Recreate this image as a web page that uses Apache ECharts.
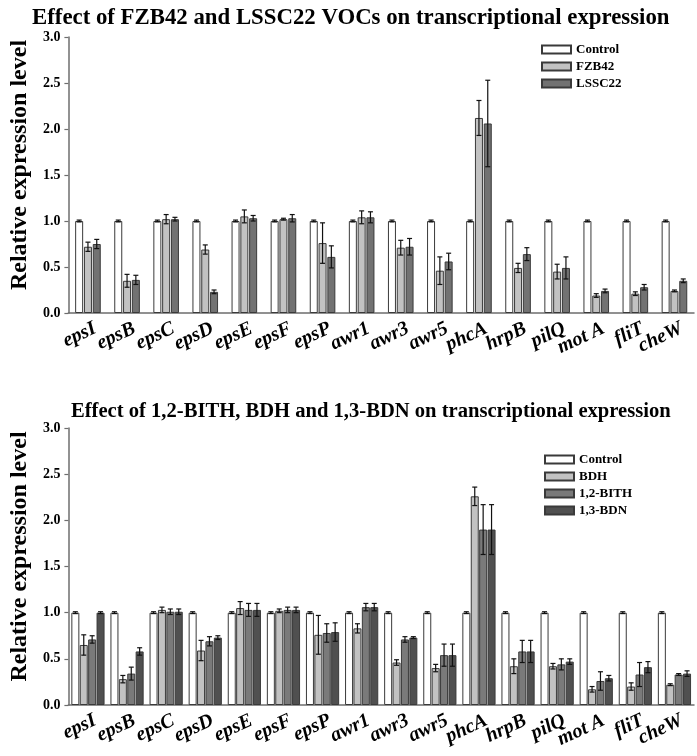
<!DOCTYPE html>
<html>
<head>
<meta charset="utf-8">
<script src="https://cdn.jsdelivr.net/npm/echarts@6/dist/echarts.min.js"></script>
<style>html,body{margin:0;padding:0;background:#fff;}#c{width:697px;height:756px;}</style>
</head>
<body>
<div id="c"></div>
<script>
const categories = ['epsI','epsB','epsC','epsD','epsE','epsF','epsP','awr1','awr3','awr5','phcA','hrpB','pilQ','mot A','fliT','cheW'];
const yTicks = [0, 0.5, 1.0, 1.5, 2.0, 2.5, 3.0];

// Top chart
const control1 = [1,1,1,1,1,1,1,1,1,1,1,1,1,1,1,1];
const control1Err = [0.01,0.01,0.01,0.01,0.01,0.01,0.01,0.01,0.01,0.01,0.01,0.01,0.01,0.01,0.01,0.01];
const fzb42 = [0.72,0.35,1.02,0.69,1.05,1.02,0.76,1.04,0.71,0.46,2.12,0.49,0.45,0.19,0.21,0.24];
const fzb42Err = [0.05,0.07,0.05,0.05,0.07,0.01,0.22,0.07,0.08,0.15,0.19,0.05,0.08,0.02,0.02,0.01];
const lssc22 = [0.75,0.36,1.02,0.23,1.03,1.03,0.61,1.04,0.72,0.56,2.06,0.64,0.49,0.24,0.28,0.35];
const lssc22Err = [0.05,0.05,0.02,0.02,0.03,0.04,0.12,0.06,0.09,0.09,0.47,0.07,0.12,0.02,0.03,0.02];

// Bottom chart
const control2 = [1,1,1,1,1,1,1,1,1,1,1,1,1,1,1,1];
const control2Err = [0.01,0.01,0.01,0.01,0.01,0.01,0.01,0.01,0.01,0.01,0.01,0.01,0.01,0.01,0.01,0.01];
const bdh = [0.65,0.28,1.03,0.59,1.05,1.02,0.76,0.83,0.46,0.40,2.26,0.42,0.42,0.17,0.20,0.22];
const bdhErr = [0.11,0.04,0.03,0.11,0.07,0.02,0.21,0.05,0.03,0.04,0.10,0.08,0.03,0.03,0.04,0.01];
const bith = [0.71,0.34,1.01,0.69,1.03,1.03,0.78,1.06,0.71,0.54,1.90,0.58,0.44,0.26,0.33,0.33];
const bithErr = [0.04,0.07,0.03,0.05,0.07,0.03,0.10,0.04,0.03,0.12,0.27,0.12,0.06,0.10,0.13,0.01];
const bdn = [1.00,0.58,1.01,0.73,1.03,1.03,0.79,1.06,0.73,0.54,1.90,0.58,0.47,0.29,0.41,0.34];
const bdnErr = [0.01,0.04,0.03,0.02,0.07,0.03,0.10,0.04,0.01,0.12,0.27,0.12,0.03,0.03,0.06,0.03];

const FONT = 'Liberation Serif';
const BAR_W = 8;
const AXIS_COLOR = '#6e6e6e';

function barSeries(name, data, color, axisIdx, gap) {
  return {
    name: name, type: 'bar', data: data,
    xAxisIndex: axisIdx, yAxisIndex: axisIdx,
    barWidth: BAR_W, barGap: gap,
    itemStyle: { color: color, borderColor: '#3a3a3a', borderWidth: 1 },
    emphasis: { disabled: true }
  };
}
function errSeries(values, errs, idx, n, axisIdx, gapPx) {
  return {
    type: 'custom', xAxisIndex: axisIdx, yAxisIndex: axisIdx, z: 10,
    data: values.map((v, i) => [i, v, errs[i]]),
    renderItem: function (params, api) {
      const xi = api.value(0), v = api.value(1), e = api.value(2);
      const c = api.coord([xi, v]);
      const hi = api.coord([xi, v + e]);
      const lo = api.coord([xi, Math.max(0, v - e)]);
      const x = c[0] + (idx - (n - 1) / 2) * (BAR_W + gapPx);
      const cap = 2.5;
      const st = { stroke: '#111', lineWidth: 1.2 };
      return {
        type: 'group',
        children: [
          { type: 'line', shape: { x1: x, y1: hi[1], x2: x, y2: lo[1] }, style: st },
          { type: 'line', shape: { x1: x - cap, y1: hi[1], x2: x + cap, y2: hi[1] }, style: st },
          { type: 'line', shape: { x1: x - cap, y1: lo[1], x2: x + cap, y2: lo[1] }, style: st }
        ]
      };
    }
  };
}
function xAxisCfg(gi) {
  return {
    type: 'category', gridIndex: gi, data: categories,
    axisLine: { lineStyle: { color: AXIS_COLOR, width: 1.5 } },
    axisTick: { alignWithLabel: true, length: 4, lineStyle: { color: AXIS_COLOR, width: 1.2 } },
    axisLabel: { rotate: 25, margin: 18, interval: 0, padding: [0, -8, 0, 0], fontFamily: FONT, fontSize: 20, fontWeight: 'bold', fontStyle: 'italic', color: '#000' }
  };
}
function yAxisCfg(gi) {
  return {
    type: 'value', gridIndex: gi, min: 0, max: 3, interval: 0.5,
    name: 'Relative expression level', nameLocation: 'middle', nameGap: 36,
    nameTextStyle: { fontFamily: FONT, fontSize: 24, fontWeight: 'bold', color: '#000', padding: [0, 0, 0, 20] },
    splitLine: { show: false },
    axisLine: { show: true, lineStyle: { color: AXIS_COLOR, width: 1.5 } },
    axisTick: { show: true, length: 4, lineStyle: { color: AXIS_COLOR, width: 1.2 } },
    axisLabel: { margin: 8, fontFamily: FONT, fontSize: 14, fontWeight: 'bold', color: '#000',
      formatter: v => yTicks.indexOf(v) >= 0 ? v.toFixed(1) : '' }
  };
}
const legendText = { fontFamily: FONT, fontSize: 13, fontWeight: 'bold', color: '#000', lineHeight: 13 };

const chart = echarts.init(document.getElementById('c'), null, { renderer: 'canvas' });
const gapTop = 0.8, gapBot = 0.4;
chart.setOption({
  animation: false,
  backgroundColor: '#fff',
  title: [
    { text: 'Effect of FZB42 and LSSC22 VOCs on transcriptional expression', left: 27, top: 2,
      textStyle: { fontFamily: FONT, fontSize: 22.8, fontWeight: 'bold', color: '#000' } },
    { text: 'Effect of 1,2-BITH, BDH and 1,3-BDN on transcriptional expression', left: 66, top: 396,
      textStyle: { fontFamily: FONT, fontSize: 20.6, fontWeight: 'bold', color: '#000' } }
  ],
  legend: [
    { data: ['Control','FZB42','LSSC22'], orient: 'vertical', left: 536, top: 38,
      itemWidth: 29, itemHeight: 8, itemGap: 4, icon: 'rect', textStyle: legendText, selectedMode: false },
    { data: ['Control ','BDH','1,2-BITH','1,3-BDN'], orient: 'vertical', left: 539, top: 448,
      itemWidth: 29, itemHeight: 8, itemGap: 4, icon: 'rect', textStyle: legendText, selectedMode: false,
      formatter: n => n.trim() }
  ],
  grid: [
    { left: 66, right: 3, top: 37, height: 276 },
    { left: 66, right: 3, top: 428, height: 277 }
  ],
  xAxis: [xAxisCfg(0), xAxisCfg(1)],
  yAxis: [yAxisCfg(0), yAxisCfg(1)],
  series: [
    barSeries('Control', control1, '#ffffff', 0, '10%'),
    barSeries('FZB42', fzb42, '#c2c2c2', 0, '10%'),
    barSeries('LSSC22', lssc22, '#727272', 0, '10%'),
    errSeries(control1, control1Err, 0, 3, 0, gapTop),
    errSeries(fzb42, fzb42Err, 1, 3, 0, gapTop),
    errSeries(lssc22, lssc22Err, 2, 3, 0, gapTop),
    barSeries('Control ', control2, '#ffffff', 1, '5%'),
    barSeries('BDH', bdh, '#c2c2c2', 1, '5%'),
    barSeries('1,2-BITH', bith, '#7a7a7a', 1, '5%'),
    barSeries('1,3-BDN', bdn, '#505050', 1, '5%'),
    errSeries(control2, control2Err, 0, 4, 1, gapBot),
    errSeries(bdh, bdhErr, 1, 4, 1, gapBot),
    errSeries(bith, bithErr, 2, 4, 1, gapBot),
    errSeries(bdn, bdnErr, 3, 4, 1, gapBot)
  ]
});
</script>
</body>
</html>
